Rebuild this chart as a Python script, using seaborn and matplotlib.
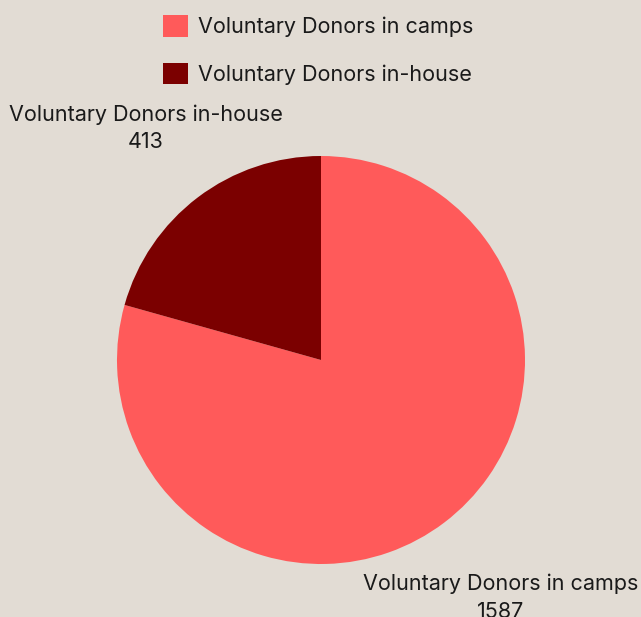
import matplotlib
matplotlib.use("Agg")
import matplotlib.pyplot as plt
import matplotlib.patches as mpatches
import seaborn as sns

# data
categories = ["Voluntary Donors in camps", "Voluntary Donors in-house"]
donors = [1587, 413]
colors = ["#ff5a5a", "#7b0000"]
bg = "#e2dcd4"

sns.set_style("white")
plt.rcParams["font.family"] = ["Inter", "DejaVu Sans"]
palette = sns.color_palette(colors)

fig = plt.figure(figsize=(6.41, 6.17), dpi=100, facecolor=bg)
ax = fig.add_axes([0, 0, 1, 1])
ax.set_facecolor(bg)

R = 204.0
ax.pie(donors, colors=palette, startangle=90, counterclock=False,
       radius=1.0, center=(0, 0), frame=False,
       wedgeprops=dict(edgecolor="none", linewidth=0))
ax.set_xlim(-321 / R, 320 / R)
ax.set_ylim(-257 / R, 360 / R)
ax.set_aspect("auto")
ax.axis("off")

# outside labels
label_pos = [(0.88, -1.165), (-0.86, 1.135)]
for (x, y), name, val in zip(label_pos, categories, donors):
    ax.text(x, y, f"{name}\n{val}", ha="center", va="center",
            fontsize=15.5, color="#1a1a1a", linespacing=1.45)

handles = [mpatches.Patch(facecolor=c, edgecolor="none", label=n)
           for c, n in zip(colors, categories)]
fig.legend(handles=handles, loc="upper center", bbox_to_anchor=(0.496, 1.0),
           frameon=False, fontsize=15.5, handlelength=1.16, handleheight=1.16,
           handletextpad=0.45, labelspacing=1.2, borderaxespad=0.3,
           labelcolor="#1a1a1a")

fig.savefig("out.png", dpi=100, facecolor=bg)
